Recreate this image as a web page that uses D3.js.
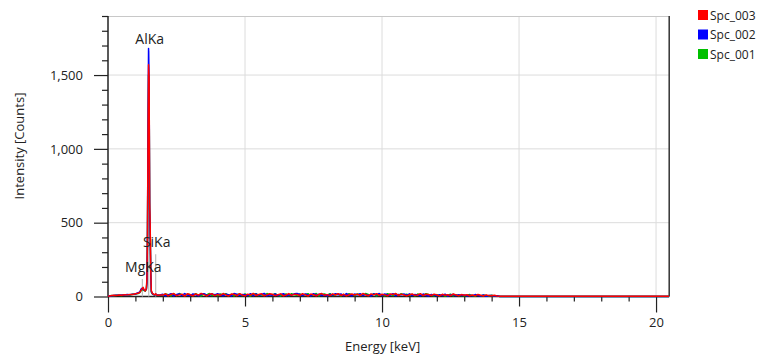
<!DOCTYPE html>
<html>
<head>
    <meta charset="UTF-8">
    <title>EDS Spectrum</title>
    <script src="https://cdn.jsdelivr.net/npm/d3@7/dist/d3.min.js"></script>
    <style>
        body { margin: 0; background: #fff; }
        text { font-family: "Open Sans", "Noto Sans", sans-serif; fill: #222; }
    </style>
</head>
<body>
<script>
    // channel energies (keV)
    var energy = [
        0.0, 0.1, 0.2, 0.3, 0.4, 0.5, 0.6, 0.7, 0.8, 0.9, 1.0, 1.1,
        1.16, 1.2, 1.24, 1.28, 1.32, 1.36, 1.4, 1.42, 1.44, 1.46, 1.48, 1.5, 1.52, 1.54, 1.56, 1.58, 1.62, 1.66, 1.7, 1.74, 1.78, 1.84, 1.9,
        2.0, 2.1, 2.2, 2.3, 2.4, 2.5, 2.6, 2.7, 2.8, 2.9,
        3.0, 3.1, 3.2, 3.3, 3.4, 3.5, 3.6, 3.7, 3.8, 3.9,
        4.0, 4.1, 4.2, 4.3, 4.4, 4.5, 4.6, 4.7, 4.8, 4.9,
        5.0, 5.1, 5.2, 5.3, 5.4, 5.5, 5.6, 5.7, 5.8, 5.9,
        6.0, 6.1, 6.2, 6.3, 6.4, 6.5, 6.6, 6.7, 6.8, 6.9,
        7.0, 7.1, 7.2, 7.3, 7.4, 7.5, 7.6, 7.7, 7.8, 7.9,
        8.0, 8.1, 8.2, 8.3, 8.4, 8.5, 8.6, 8.7, 8.8, 8.9,
        9.0, 9.1, 9.2, 9.3, 9.4, 9.5, 9.6, 9.7, 9.8, 9.9,
        10.0, 10.1, 10.2, 10.3, 10.4, 10.5, 10.6, 10.7, 10.8, 10.9,
        11.0, 11.1, 11.2, 11.3, 11.4, 11.5, 11.6, 11.7, 11.8, 11.9,
        12.0, 12.1, 12.2, 12.3, 12.4, 12.5, 12.6, 12.7, 12.8, 12.9,
        13.0, 13.1, 13.2, 13.3, 13.4, 13.5, 13.6, 13.7, 13.8, 13.9,
        14.0, 14.1, 14.2, 14.3, 20.48
    ];

    var spc003 = [
        2, 5, 8, 6, 10, 9, 12, 11, 14, 13, 18, 22,
        28, 40, 52, 62, 45, 38, 55, 120, 420, 1060, 1570, 1480, 640, 470, 180, 40, 22, 15, 12, 18, 10, 8, 11,
        10, 18, 4, 14, 20, 6, 11, 16, 3, 19,
        12, 5, 17, 9, 21, 13, 4, 15, 18, 6,
        14, 8, 20, 11, 3, 17, 15, 5, 19, 10,
        4, 16, 10, 21, 7, 13, 18, 5, 11, 19,
        15, 6, 12, 18, 4, 10, 20, 8, 16, 13,
        7, 19, 11, 3, 17, 12, 5, 15, 20, 9,
        13, 6, 18, 10, 19, 7, 15, 4, 12, 17,
        10, 16, 7, 20, 12, 5, 18, 11, 19, 8,
        15, 11, 5, 17, 13, 20, 7, 16, 10, 4,
        12, 17, 8, 10, 19, 6, 15, 13, 7, 16,
        10, 4, 15, 8, 12, 6, 17, 10, 5, 13,
        8, 12, 5, 10, 4, 14, 8, 3, 11, 6,
        5, 9, 3, 1, 1
    ];

    var spc002 = [
        3, 4, 7, 9, 8, 11, 10, 13, 12, 16, 17, 25,
        30, 48, 55, 50, 42, 40, 50, 90, 380, 1150, 1680, 1450, 600, 420, 160, 35, 20, 14, 10, 15, 12, 9, 10,
        15, 5, 10, 19, 4, 13, 17, 7, 20, 9,
        6, 17, 12, 4, 15, 19, 9, 7, 18, 11,
        19, 10, 5, 15, 12, 3, 20, 16, 7, 14,
        12, 6, 19, 5, 17, 9, 14, 21, 4, 12,
        9, 17, 6, 14, 19, 5, 12, 9, 18, 20,
        14, 7, 17, 11, 4, 19, 9, 16, 6, 12,
        5, 15, 9, 19, 12, 17, 6, 20, 10, 4,
        17, 11, 19, 6, 14, 9, 4, 18, 12, 20,
        7, 17, 12, 9, 19, 5, 14, 11, 17, 8,
        18, 6, 14, 11, 4, 17, 9, 3, 14, 11,
        5, 12, 7, 16, 3, 10, 14, 5, 12, 7,
        11, 4, 9, 5, 13, 7, 3, 10, 2, 7,
        6, 3, 5, 0, 0
    ];

    var spc001 = [
        1, 6, 5, 8, 9, 7, 11, 12, 10, 15, 16, 20,
        26, 38, 45, 48, 40, 36, 48, 100, 400, 1000, 1500, 1400, 600, 430, 150, 30, 18, 13, 11, 14, 9, 10, 8,
        9, 18, 12, 5, 17, 7, 20, 11, 8, 16,
        13, 6, 19, 9, 4, 17, 11, 20, 6, 14,
        7, 17, 11, 19, 8, 14, 4, 12, 18, 6,
        17, 9, 4, 14, 19, 6, 12, 8, 20, 13,
        11, 19, 8, 4, 14, 17, 6, 19, 11, 9,
        17, 8, 13, 19, 6, 12, 20, 4, 14, 17,
        9, 19, 6, 12, 17, 4, 14, 9, 19, 11,
        6, 17, 11, 8, 20, 14, 6, 19, 4, 14,
        11, 4, 19, 14, 6, 17, 8, 19, 11, 16,
        8, 14, 4, 17, 11, 6, 19, 13, 8, 5,
        13, 6, 11, 3, 9, 16, 5, 12, 6, 9,
        5, 9, 13, 6, 3, 11, 5, 9, 7, 3,
        8, 4, 3, 0, 0
    ];

    var seriesNames = ["Spc_003", "Spc_002", "Spc_001"];
    var seriesColors = ["#ff0000", "#0000ff", "#00c000"];

    // element line markers
    var lineNames = ["MgKa", "AlKa", "SiKa"];
    var lineEnergies = [1.254, 1.487, 1.740];
    var lineHeights = [118, 1665, 287];

    var xTicks = [0, 5, 10, 15, 20];
    var yTicks = [0, 500, 1000, 1500];

    var w = 761, h = 356;
    var mLeft = 108, mRight = 669.2, mTop = 16, mBottom = 296.5;

    var svg = d3.select("body").append("svg")
            .attr("width", w)
            .attr("height", h);

    var x = d3.scaleLinear().domain([0, 20.48]).range([mLeft, mRight]);
    var y = d3.scaleLinear().domain([0, 1900]).range([mBottom, mTop]);

    // grid
    svg.append("g").selectAll("line")
            .data([5, 10, 15, 20])
            .enter().append("line")
            .attr("x1", function (d) { return x(d); })
            .attr("x2", function (d) { return x(d); })
            .attr("y1", mTop).attr("y2", mBottom)
            .attr("stroke", "#dcdcdc").attr("stroke-width", 1);

    svg.append("g").selectAll("line")
            .data([500, 1000, 1500])
            .enter().append("line")
            .attr("x1", mLeft).attr("x2", mRight)
            .attr("y1", function (d) { return y(d); })
            .attr("y2", function (d) { return y(d); })
            .attr("stroke", "#dcdcdc").attr("stroke-width", 1);

    svg.append("line")
            .attr("x1", mLeft).attr("x2", mRight)
            .attr("y1", mTop + 0.5).attr("y2", mTop + 0.5)
            .attr("stroke", "#c8c8c8");

    // x axis: labels + three tick levels
    var xLab = svg.append("g").attr("transform", "translate(0," + mBottom + ")")
            .call(d3.axisBottom(x).tickValues(xTicks).tickSize(0).tickPadding(21).tickFormat(d3.format("d")));
    xLab.select(".domain").remove();
    xLab.selectAll("text").style("font-size", "13px").attr("fill", "#222");

    function tickAxis(vals, size) {
        var g = svg.append("g").attr("transform", "translate(0," + mBottom + ")")
                .call(d3.axisBottom(x).tickValues(vals).tickSize(size).tickFormat(""));
        g.select(".domain").remove();
        g.selectAll("line").attr("stroke", "#222").attr("stroke-width", 1.2);
    }
    tickAxis([1, 2, 3, 4, 6, 7, 8, 9, 11, 12, 13, 14, 16, 17, 18, 19], 5);
    tickAxis([5, 15], 10);
    tickAxis([0, 10, 20], 16);

    // y axis
    var yLab = svg.append("g").attr("transform", "translate(" + mLeft + ",0)")
            .call(d3.axisLeft(y).tickValues(yTicks).tickSize(14).tickPadding(11).tickFormat(d3.format(",")));
    yLab.select(".domain").remove();
    yLab.selectAll("line").attr("stroke", "#222").attr("stroke-width", 1.2);
    yLab.selectAll("text").style("font-size", "13px").attr("fill", "#222");

    var yMinor = svg.append("g").attr("transform", "translate(" + mLeft + ",0)")
            .call(d3.axisLeft(y).tickValues([100, 200, 300, 400, 600, 700, 800, 900, 1100, 1200, 1300, 1400, 1600, 1700, 1800, 1900])
                    .tickSize(6).tickFormat(""));
    yMinor.select(".domain").remove();
    yMinor.selectAll("line").attr("stroke", "#222").attr("stroke-width", 1.2);

    // frame lines
    svg.append("line").attr("x1", mLeft).attr("x2", mLeft).attr("y1", mTop).attr("y2", mBottom)
            .attr("stroke", "#222").attr("stroke-width", 1.5);
    svg.append("line").attr("x1", mRight).attr("x2", mRight).attr("y1", mTop).attr("y2", mBottom)
            .attr("stroke", "#333").attr("stroke-width", 1.5);
    svg.append("line").attr("x1", mLeft).attr("x2", mRight).attr("y1", mBottom).attr("y2", mBottom)
            .attr("stroke", "#222").attr("stroke-width", 1.5);

    // element markers
    svg.append("g").selectAll("line")
            .data(lineNames)
            .enter().append("line")
            .attr("x1", function (d, i) { return x(lineEnergies[i]); })
            .attr("x2", function (d, i) { return x(lineEnergies[i]); })
            .attr("y1", y(0))
            .attr("y2", function (d, i) { return y(lineHeights[i]); })
            .attr("stroke", "#bdbdbd").attr("stroke-width", 1.2);

    // spectra, drawn bottom to top
    svg.append("clipPath").attr("id", "plot")
            .append("rect").attr("x", mLeft).attr("y", mTop).attr("width", mRight - mLeft).attr("height", mBottom - mTop + 2);

    var spectra = [spc001, spc002, spc003];
    var colors = ["#00c000", "#0000ff", "#ff0000"];
    spectra.forEach(function (s, k) {
        var line = d3.line()
                .x(function (d, i) { return x(energy[i]); })
                .y(function (d) { return y(d); });
        svg.append("path")
                .datum(s)
                .attr("clip-path", "url(#plot)")
                .attr("d", line)
                .attr("fill", "none")
                .attr("stroke", colors[k])
                .attr("stroke-width", 1.5)
                .attr("stroke-linejoin", "round");
    });

    // marker labels
    svg.append("g").selectAll("text")
            .data(lineNames)
            .enter().append("text")
            .text(function (d) { return d; })
            .attr("x", function (d, i) { return x(lineEnergies[i]) + 1; })
            .attr("y", function (d, i) { return y(lineHeights[i]) - 7; })
            .attr("text-anchor", "middle")
            .style("font-size", "14px");

    // axis titles
    svg.append("text")
            .text("Energy [keV]")
            .attr("x", (mLeft + mRight) / 2 - 6)
            .attr("y", 351)
            .attr("text-anchor", "middle")
            .style("font-size", "13px");

    svg.append("text")
            .text("Intensity [Counts]")
            .attr("transform", "translate(24,146) rotate(-90)")
            .attr("text-anchor", "middle")
            .style("font-size", "13px");

    // legend
    var lg = svg.append("g").selectAll("g")
            .data(seriesNames)
            .enter().append("g")
            .attr("transform", function (d, i) { return "translate(698," + (10 + i * 19.5) + ")"; });
    lg.append("rect")
            .attr("width", 10).attr("height", 10)
            .attr("fill", function (d, i) { return seriesColors[i]; });
    lg.append("text")
            .text(function (d) { return d; })
            .attr("x", 12).attr("y", 9.5)
            .style("font-size", "12px");
</script>
</body>
</html>
